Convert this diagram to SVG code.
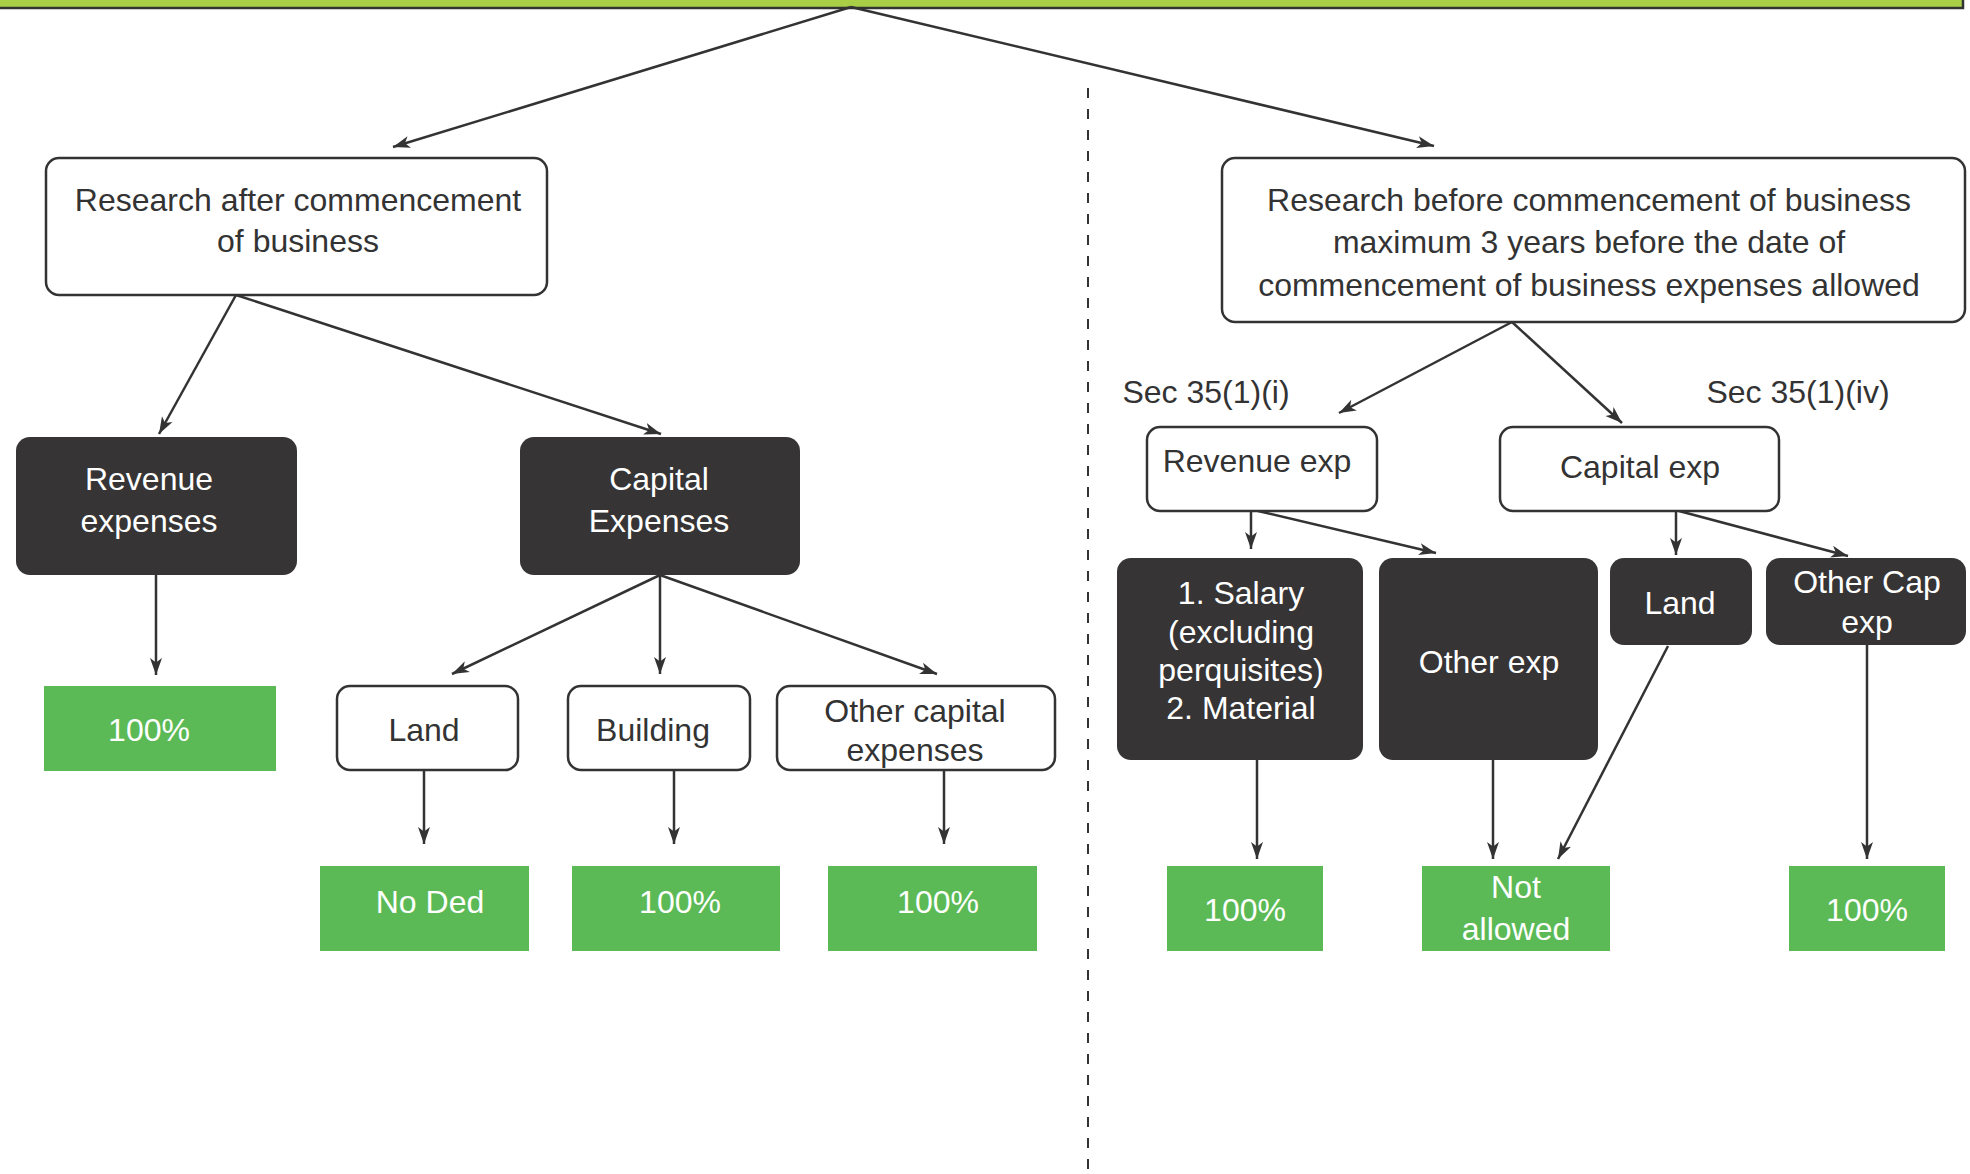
<svg xmlns="http://www.w3.org/2000/svg" width="1970" height="1174" viewBox="0 0 1970 1174">
<defs>
<style>
.t{font-family:"Liberation Sans",Arial,sans-serif;font-size:32px;text-anchor:middle}
.dk{fill:#333333}
.wt{fill:#ffffff}
.wbox{fill:#ffffff;stroke:#333333;stroke-width:2.5}
.dbox{fill:#363435;stroke:none}
.gbox{fill:#5bba55;stroke:none}
.c line{stroke:#333333;stroke-width:2.5;fill:none;marker-end:url(#ah)}
</style>
<marker id="ah" markerUnits="userSpaceOnUse" markerWidth="18" markerHeight="13" refX="17" refY="6" orient="auto" viewBox="0 0 18 12">
<path d="M0,0 L17,6 L0,12 L4.5,6 z" fill="#333333"/>
</marker>
</defs>
<rect x="0" y="0" width="1970" height="1174" fill="#ffffff"/>
<g id="topbar"><rect x="-5" y="-20" width="1968" height="28" fill="#a9cf46" stroke="#333333" stroke-width="2.5"/></g>
<g id="divider"><line x1="1088" y1="88" x2="1088" y2="1174" stroke="#333333" stroke-width="2" stroke-dasharray="10 11"/></g>

<g class="c" id="connectors">
<line x1="851" y1="7" x2="393" y2="147"/>
<line x1="851" y1="7" x2="1434" y2="146"/>
<line x1="236" y1="295" x2="159" y2="434"/>
<line x1="236" y1="295" x2="661" y2="434"/>
<line x1="156" y1="575" x2="156" y2="675"/>
<line x1="660" y1="575" x2="452" y2="674"/>
<line x1="660" y1="575" x2="660" y2="674"/>
<line x1="660" y1="575" x2="937" y2="674"/>
<line x1="424" y1="770" x2="424" y2="844"/>
<line x1="674" y1="770" x2="674" y2="844"/>
<line x1="944" y1="770" x2="944" y2="844"/>
<line x1="1512" y1="322" x2="1339" y2="413"/>
<line x1="1512" y1="322" x2="1622" y2="423"/>
<line x1="1251" y1="511" x2="1251" y2="549"/>
<line x1="1258" y1="511" x2="1436" y2="553"/>
<line x1="1676" y1="511" x2="1676" y2="555"/>
<line x1="1679" y1="511" x2="1848" y2="556"/>
<line x1="1257" y1="760" x2="1257" y2="859"/>
<line x1="1493" y1="760" x2="1493" y2="859"/>
<line x1="1668" y1="646" x2="1558" y2="859"/>
<line x1="1867" y1="645" x2="1867" y2="859"/>
</g>

<g id="research-after">
<rect class="wbox" x="46" y="158" width="501" height="137" rx="13"/>
<text class="t dk" x="298" y="211">Research after commencement</text>
<text class="t dk" x="298" y="252">of business</text>
</g>
<g id="revenue-expenses">
<rect class="dbox" x="16" y="437" width="281" height="138" rx="14"/>
<text class="t wt" x="149" y="490">Revenue</text>
<text class="t wt" x="149" y="532">expenses</text>
</g>
<g id="capital-expenses">
<rect class="dbox" x="520" y="437" width="280" height="138" rx="14"/>
<text class="t wt" x="659" y="490">Capital</text>
<text class="t wt" x="659" y="532">Expenses</text>
</g>
<g id="rev-100">
<rect class="gbox" x="44" y="686" width="232" height="85"/>
<text class="t wt" x="149" y="741">100%</text>
</g>
<g id="land-left">
<rect class="wbox" x="337" y="686" width="181" height="84" rx="13"/>
<text class="t dk" x="424" y="741">Land</text>
</g>
<g id="building">
<rect class="wbox" x="568" y="686" width="182" height="84" rx="13"/>
<text class="t dk" x="653" y="741">Building</text>
</g>
<g id="other-capital">
<rect class="wbox" x="777" y="686" width="278" height="84" rx="13"/>
<text class="t dk" x="915" y="722">Other capital</text>
<text class="t dk" x="915" y="761">expenses</text>
</g>
<g id="no-ded">
<rect class="gbox" x="320" y="866" width="209" height="85"/>
<text class="t wt" x="430" y="913">No Ded</text>
</g>
<g id="building-100">
<rect class="gbox" x="572" y="866" width="208" height="85"/>
<text class="t wt" x="680" y="913">100%</text>
</g>
<g id="othercap-100">
<rect class="gbox" x="828" y="866" width="209" height="85"/>
<text class="t wt" x="938" y="913">100%</text>
</g>

<g id="research-before">
<rect class="wbox" x="1222" y="158" width="743" height="164" rx="13"/>
<text class="t dk" x="1589" y="211">Research before commencement of business</text>
<text class="t dk" x="1589" y="253">maximum 3 years before the date of</text>
<text class="t dk" x="1589" y="296">commencement of business expenses allowed</text>
</g>
<g id="sec-labels">
<text class="t dk" x="1206" y="403">Sec 35(1)(i)</text>
<text class="t dk" x="1798" y="403">Sec 35(1)(iv)</text>
</g>
<g id="revenue-exp">
<rect class="wbox" x="1147" y="427" width="230" height="84" rx="13"/>
<text class="t dk" x="1257" y="472">Revenue exp</text>
</g>
<g id="capital-exp">
<rect class="wbox" x="1500" y="427" width="279" height="84" rx="13"/>
<text class="t dk" x="1640" y="478">Capital exp</text>
</g>
<g id="salary-material">
<rect class="dbox" x="1117" y="558" width="246" height="202" rx="14"/>
<text class="t wt" x="1241" y="604">1. Salary</text>
<text class="t wt" x="1241" y="643">(excluding</text>
<text class="t wt" x="1241" y="681">perquisites)</text>
<text class="t wt" x="1241" y="719">2. Material</text>
</g>
<g id="other-exp">
<rect class="dbox" x="1379" y="558" width="219" height="202" rx="14"/>
<text class="t wt" x="1489" y="673">Other exp</text>
</g>
<g id="land-right">
<rect class="dbox" x="1610" y="558" width="142" height="87" rx="14"/>
<text class="t wt" x="1680" y="614">Land</text>
</g>
<g id="other-cap-exp">
<rect class="dbox" x="1766" y="558" width="200" height="87" rx="14"/>
<text class="t wt" x="1867" y="593">Other Cap</text>
<text class="t wt" x="1867" y="633">exp</text>
</g>
<g id="salary-100">
<rect class="gbox" x="1167" y="866" width="156" height="85"/>
<text class="t wt" x="1245" y="921">100%</text>
</g>
<g id="not-allowed">
<rect class="gbox" x="1422" y="866" width="188" height="85"/>
<text class="t wt" x="1516" y="898">Not</text>
<text class="t wt" x="1516" y="940">allowed</text>
</g>
<g id="othercapexp-100">
<rect class="gbox" x="1789" y="866" width="156" height="85"/>
<text class="t wt" x="1867" y="921">100%</text>
</g>
</svg>
